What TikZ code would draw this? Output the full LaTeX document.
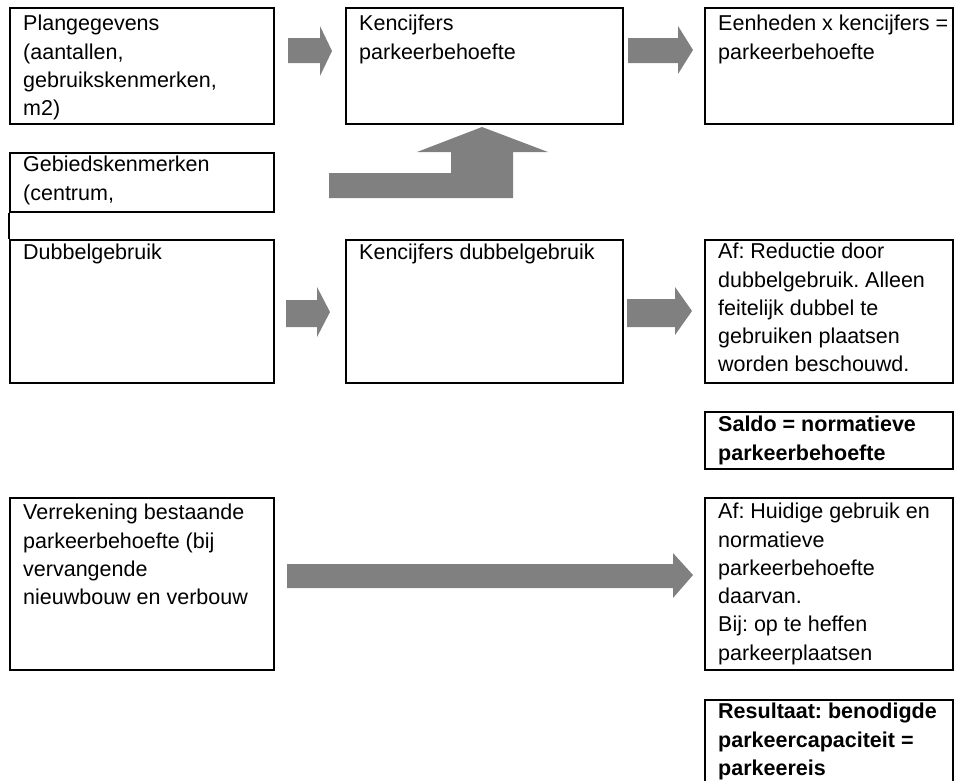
\documentclass[tikz,border=0pt]{standalone}
\usepackage{fontspec}
\setmainfont{Liberation Sans}
\frenchspacing

\begin{document}
\begin{tikzpicture}[x=1pt,y=-1pt,
    box/.style={rectangle,draw=black,line width=1.8pt,anchor=north west,inner sep=0pt},
    txt/.style={anchor=north west,align=left,inner xsep=14pt,inner ysep=5pt,
        font=\fontsize{21.5}{28.3}\selectfont},
    blk/.style={fill=gray}]
        \useasboundingbox (0,0) rectangle (957,780);

        % boxes
        \node(plan)   at (9,7)     [box,minimum width=264,minimum height=116] {};
        \node(kenpb)  at (345,7)   [box,minimum width=277,minimum height=116] {};
        \node(eenh)   at (704,7)   [box,minimum width=248,minimum height=116] {};
        \node(gebied) at (9,152)   [box,minimum width=264,minimum height=59] {};
        \node(dubbel) at (9,239)   [box,minimum width=264,minimum height=143] {};
        \node(kendb)  at (345,239) [box,minimum width=277,minimum height=143] {};
        \node(reduc)  at (704,239) [box,minimum width=248,minimum height=143] {};
        \node(saldo)  at (704,411) [box,minimum width=248,minimum height=57] {};
        \node(verrek) at (9,497)   [box,minimum width=264,minimum height=172] {};
        \node(huidig) at (704,497) [box,minimum width=248,minimum height=172] {};
        \node(result) at (704,699) [box,minimum width=248,minimum height=95] {};

        \draw[line width=1.8pt] (gebied.south west) -- (dubbel.north west);

        % texts
        \node(plant)   at (plan.north west)   [txt,inner ysep=8pt] {Plangegevens\\(aantallen,\\gebruikskenmerken,\\m2)};
        \node(kenpbt)  at (kenpb.north west)  [txt,inner ysep=8pt] {Kencijfers\\parkeerbehoefte};
        \node(eenht)   at (eenh.north west)   [txt,inner ysep=8pt] {Eenheden x kencijfers =\\parkeerbehoefte};
        \node(gebiedt) at (gebied.north west) [txt,inner ysep=4pt] {Gebiedskenmerken\\(centrum,};
        \node(dubbelt) at (dubbel.north west) [txt] {Dubbelgebruik};
        \node(kendbt)  at (kendb.north west)  [txt] {Kencijfers dubbelgebruik};
        \node(reduct)  at (reduc.north west)  [txt,inner ysep=4pt] {Af: Reductie door\\dubbelgebruik. Alleen\\feitelijk dubbel te\\gebruiken plaatsen\\worden beschouwd.};
        \node(saldot)  at (saldo.north west)  [txt,inner ysep=5pt] {\bfseries Saldo = normatieve\\\bfseries parkeerbehoefte};
        \node(verrekt) at (verrek.north west) [txt,inner ysep=7pt] {Verrekening bestaande\\parkeerbehoefte (bij\\vervangende\\nieuwbouw en verbouw};
        \node(huidigt) at (huidig.north west) [txt,inner ysep=6pt] {Af: Huidige gebruik en\\normatieve\\parkeerbehoefte\\daarvan.\\Bij: op te heffen\\parkeerplaatsen};
        \node(resultt) at (result.north west) [txt,inner ysep=4pt] {\bfseries Resultaat: benodigde\\\bfseries parkeercapaciteit =\\\bfseries parkeereis};

        % block arrows
        \fill[blk] (288,38) -- (320,38) -- (320,26) -- (332,51) -- (320,76) -- (320,63) -- (288,63) -- cycle;
        \fill[blk] (628,38) -- (678,38) -- (678,26) -- (693,50) -- (678,74) -- (678,63) -- (628,63) -- cycle;
        \fill[blk] (329,198) -- (329,173) -- (451,173) -- (451,152) -- (417,152) -- (482,127)
            -- (548,152) -- (513,152) -- (513,198) -- cycle;
        \fill[blk] (286,300) -- (317,300) -- (317,287) -- (330,312) -- (317,337) -- (317,327) -- (286,327) -- cycle;
        \fill[blk] (627,299) -- (675,299) -- (675,287) -- (692,311) -- (675,335) -- (675,327) -- (627,327) -- cycle;
        \fill[blk] (287,564) -- (673,564) -- (673,553) -- (693,575) -- (673,598) -- (673,588) -- (287,588) -- cycle;
    \end{tikzpicture}
\end{document}
